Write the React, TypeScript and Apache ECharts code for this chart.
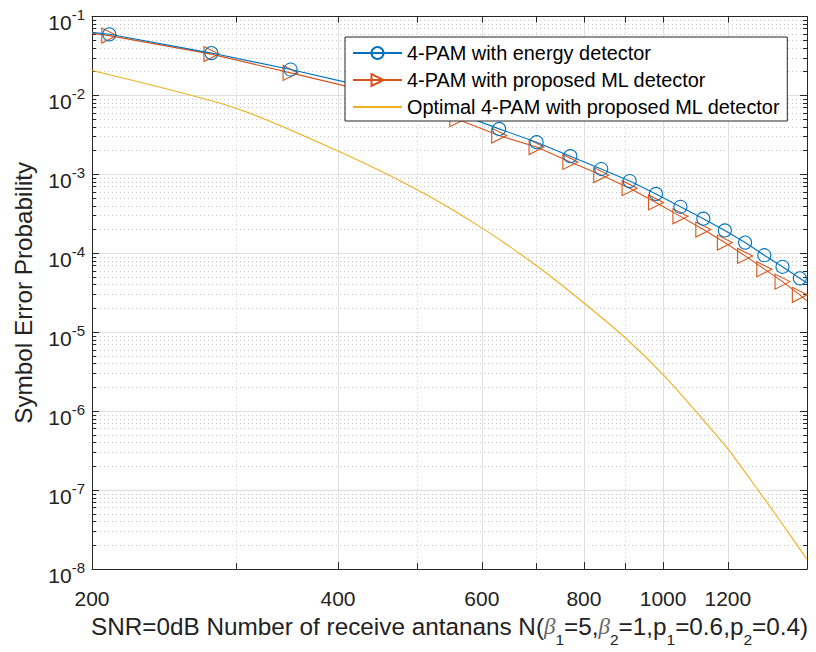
import React, { useEffect, useRef } from 'react';
import * as echarts from 'echarts';

// Number of receive antennas (x) for the two detector curves
const antennas = [200, 210, 280, 350, 420, 490, 560, 630, 700, 770, 840, 910, 980, 1050, 1120, 1190, 1260, 1330, 1400, 1470, 1500];
// Positions where markers are drawn
const markerN = [210, 280, 350, 420, 490, 560, 630, 700, 770, 840, 910, 980, 1050, 1120, 1190, 1260, 1330, 1400, 1470];
const energySER = [0.063, 0.0595, 0.0344, 0.0213, 0.0138, 0.009, 0.0059, 0.00377, 0.00256, 0.0017, 0.00117, 0.000824, 0.000566, 0.000389, 0.000275, 0.000195, 0.000137, 9.46e-5, 6.76e-5, 4.83e-5, 4.2e-5];
const mlSER = [0.0612, 0.0573, 0.0334, 0.0193, 0.0123, 0.0079, 0.005, 0.0031, 0.00222, 0.00144, 0.00098, 0.000668, 0.000441, 0.000294, 0.0002, 0.000137, 9.28e-5, 6.3e-5, 4.38e-5, 2.98e-5, 2.5e-5];
// Optimal curve
const optN = [200, 300, 400, 500, 600, 700, 800, 900, 1000, 1100, 1200, 1300, 1400, 1500];
const optSER = [0.0207, 6.9e-3, 1.98e-3, 6.4e-4, 2.1e-4, 6.95e-5, 2.35e-5, 8.4e-6, 2.91e-6, 9.6e-7, 3.34e-7, 1.08e-7, 3.7e-8, 1.33e-8];

// Axis ticks
const xMajorTicks = [200, 400, 600, 800, 1000, 1200];
const xMinorTicks = [300, 500, 700, 900];
const yMajorTicks = [1e-8, 1e-7, 1e-6, 1e-5, 1e-4, 1e-3, 1e-2, 1e-1];
const yMinorMantissas = [2, 3, 4, 5, 6, 7, 8, 9];
const yMinorDecades = [1e-8, 1e-7, 1e-6, 1e-5, 1e-4, 1e-3, 1e-2];

const seriesNames = [
  '4-PAM with energy detector',
  '4-PAM with proposed ML detector',
  'Optimal 4-PAM with proposed ML detector',
];

const FONT = '"Liberation Sans", Arial, Helvetica, sans-serif';
const AX = '#262626';
const GRID = '#dfdfdf';
const MINOR = '#c6c6c6';

export default function App() {
  const ref = useRef<HTMLDivElement>(null);
  useEffect(() => {
    const chart = echarts.init(ref.current!, null, { renderer: 'svg' });
    const yMinorTicks: number[] = [];
    yMinorDecades.forEach((d) => yMinorMantissas.forEach((m) => yMinorTicks.push(m * d)));

    const withMarkers = (ys: number[]) =>
      antennas.map((x, i) =>
        markerN.includes(x) ? [x, ys[i]] : { value: [x, ys[i]], symbol: 'none' }
      );

    const xBase = { type: 'log', logBase: 10, min: 200, max: 1500, gridIndex: 0 };
    const yBase = { type: 'log', logBase: 10, min: 1e-8, max: 1e-1, gridIndex: 0 };

    const option: any = {
      animation: false,
      backgroundColor: '#fff',
      grid: { left: 92, right: 9, top: 15, bottom: 79, containLabel: false },
      legend: {
        data: [seriesNames[0], seriesNames[1], { name: seriesNames[2], itemStyle: { opacity: 0 } }],
        orient: 'vertical',
        left: 345,
        top: 37,
        padding: [6, 7, 4, 7],
        itemWidth: 49,
        itemHeight: 15,
        itemGap: 7,
        borderColor: AX,
        borderWidth: 1,
        borderRadius: 0,
        backgroundColor: '#fff',
        selectedMode: false,
        z: 20,
        textStyle: { fontSize: 19.9, color: '#000', fontFamily: FONT },
      },
      xAxis: [
        {
          ...xBase,
          position: 'bottom',
          name: 'SNR=0dB Number of receive antanans N({g|β}{s|1}=5,{g|β}{s|2}=1,p{s|1}=0.6,p{s|2}=0.4)',
          nameLocation: 'middle',
          nameGap: 44,
          nameTextStyle: {
            fontSize: 24.3,
            lineHeight: 24,
            color: '#222',
            fontFamily: FONT,
            rich: {
              g: { fontSize: 23, lineHeight: 24, fontStyle: 'italic', fontFamily: '"Liberation Serif", serif', color: '#666' },
              s: { fontSize: 15.5, lineHeight: 15, padding: [17, 0, 0, 0], verticalAlign: 'top', fontFamily: FONT, color: '#222' },
            },
          },
          axisLine: { show: true, lineStyle: { color: AX, width: 1 } },
          axisTick: { show: true, inside: true, length: 7, customValues: xMajorTicks, lineStyle: { color: AX } },
          axisLabel: {
            show: true,
            customValues: xMajorTicks,
            formatter: (v: number) => String(Math.round(v)),
            fontSize: 21,
            color: '#222',
            fontFamily: FONT,
            margin: 19,
          },
          splitLine: { show: true, lineStyle: { color: GRID, width: 1 } },
        },
        {
          ...xBase,
          position: 'bottom',
          axisLine: { show: false },
          axisTick: { show: true, inside: true, length: 6, customValues: xMinorTicks, lineStyle: { color: AX } },
          axisLabel: { show: false },
          splitLine: { show: true, lineStyle: { color: MINOR, width: 1, type: [1, 3] } },
        },
        {
          ...xBase,
          position: 'top',
          axisLine: { show: true, lineStyle: { color: AX, width: 1 } },
          axisTick: { show: true, inside: true, length: 6, customValues: [...xMajorTicks, ...xMinorTicks], lineStyle: { color: AX } },
          axisLabel: { show: false },
          splitLine: { show: false },
        },
      ],
      yAxis: [
        {
          ...yBase,
          position: 'left',
          name: 'Symbol Error Probability',
          nameLocation: 'middle',
          nameGap: 57,
          nameTextStyle: { fontSize: 24.3, color: '#222', fontFamily: FONT },
          axisLine: { show: true, lineStyle: { color: AX, width: 1 } },
          axisTick: { show: true, inside: true, length: 7, customValues: yMajorTicks, lineStyle: { color: AX } },
          axisLabel: {
            show: true,
            customValues: yMajorTicks,
            margin: 7,
            formatter: (v: number) => `{b|10}{s|${Math.round(Math.log10(v))}}`,
            rich: {
              b: { fontSize: 21, lineHeight: 21, padding: [12, 0, 0, 0], color: '#222', fontFamily: FONT },
              s: { fontSize: 15, lineHeight: 15, padding: [7, 0, 11, 0], color: '#222', fontFamily: FONT },
            },
          },
          splitLine: { show: true, lineStyle: { color: GRID, width: 1 } },
        },
        {
          ...yBase,
          position: 'left',
          axisLine: { show: false },
          axisTick: { show: true, inside: true, length: 4, customValues: yMinorTicks, lineStyle: { color: AX } },
          axisLabel: { show: false },
          splitLine: { show: true, lineStyle: { color: MINOR, width: 1, type: [1, 3] } },
        },
        {
          ...yBase,
          position: 'right',
          axisLine: { show: true, lineStyle: { color: AX, width: 1 } },
          axisTick: { show: true, inside: true, length: 7, customValues: yMajorTicks, lineStyle: { color: AX } },
          axisLabel: { show: false },
          splitLine: { show: false },
        },
        {
          ...yBase,
          position: 'right',
          axisLine: { show: false },
          axisTick: { show: true, inside: true, length: 4, customValues: yMinorTicks, lineStyle: { color: AX } },
          axisLabel: { show: false },
          splitLine: { show: false },
        },
      ],
      series: [
        {
          name: seriesNames[0],
          type: 'line',
          xAxisIndex: 0,
          yAxisIndex: 0,
          data: withMarkers(energySER),
          symbol: 'circle',
          symbolSize: 13,
          lineStyle: { color: '#0072BD', width: 1.1 },
          itemStyle: { color: 'rgba(0,0,0,0)', borderColor: '#0072BD', borderWidth: 1.1 },
          emphasis: { disabled: true },
          z: 3,
        },
        {
          name: seriesNames[1],
          type: 'line',
          xAxisIndex: 0,
          yAxisIndex: 0,
          data: withMarkers(mlSER),
          symbol: 'triangle',
          symbolRotate: -90,
          symbolSize: 15,
          lineStyle: { color: '#D95319', width: 1.1 },
          itemStyle: { color: 'rgba(0,0,0,0)', borderColor: '#D95319', borderWidth: 1.1 },
          emphasis: { disabled: true },
          z: 2,
        },
        {
          name: seriesNames[2],
          type: 'line',
          xAxisIndex: 0,
          yAxisIndex: 0,
          data: optN.map((x, i) => [x, optSER[i]]),
          symbol: 'none',
          smooth: 0.25,
          lineStyle: { color: '#EDB120', width: 1.1 },
          itemStyle: { color: '#EDB120' },
          emphasis: { disabled: true },
          z: 2,
        },
      ],
    };
    chart.setOption(option);
    return () => chart.dispose();
  }, []);
  return (
    <div
      ref={ref}
      style={{ position: 'fixed', left: 0, top: 0, width: 816, height: 652, background: '#fff' }}
    />
  );
}
